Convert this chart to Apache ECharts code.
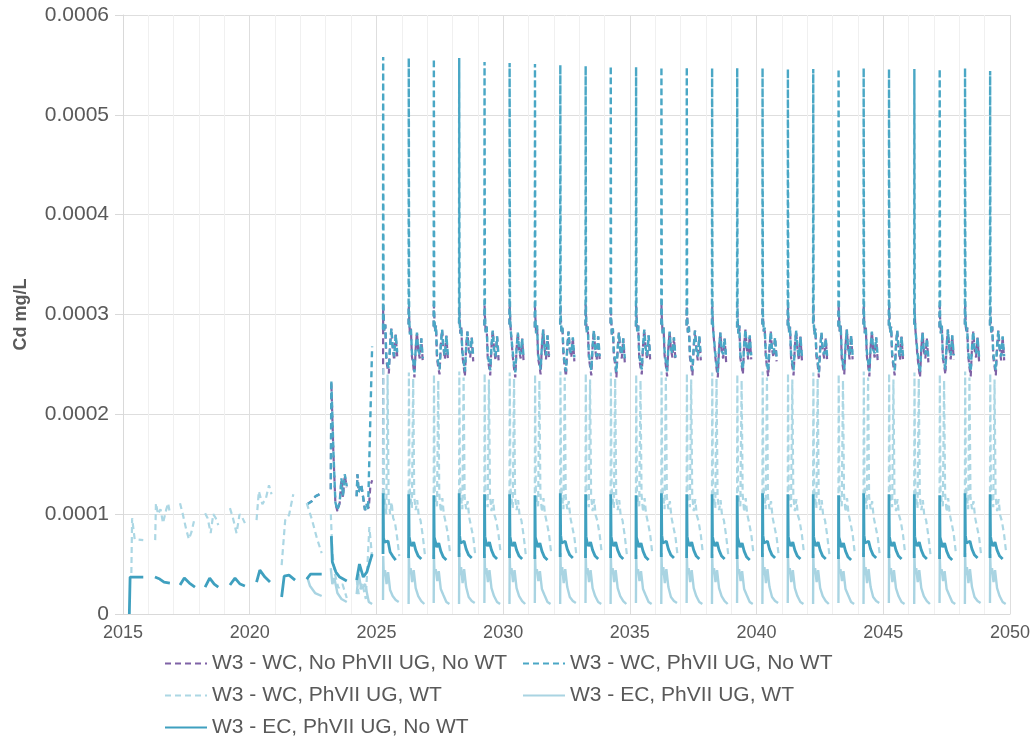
<!DOCTYPE html>
<html><head><meta charset="utf-8">
<script src="https://cdn.jsdelivr.net/npm/echarts/dist/echarts.min.js"></script>
<style>html,body{margin:0;padding:0;background:#fff}#c{width:1034px;height:755px}</style>
</head><body><div id="c"></div>
<script>
const seriesNames = ['W3 - WC, No PhVII UG, No WT','W3 - WC, PhVII UG, No WT','W3 - WC, PhVII UG, WT','W3 - EC, PhVII UG, WT','W3 - EC, PhVII UG, No WT'];
const yTicks = [0, 0.0001, 0.0002, 0.0003, 0.0004, 0.0005, 0.0006];
const xTicks = [2015, 2020, 2025, 2030, 2035, 2040, 2045, 2050];

// annual event start years (2025 onward)
const cycleStart = [2025.26,2026.27,2027.26,2028.26,2029.26,2030.25,2031.25,2032.25,2033.25,2034.24,2035.24,2036.24,2037.24,2038.24,2039.23,2040.23,2041.23,2042.23,2043.23,2044.22,2045.22,2046.22,2047.22,2048.22,2049.21];

// ---- W3 - WC, No PhVII UG, No WT (purple dashed)
const s1Early = [
 [[2022.27,110e-6],[2022.45,113e-6],[2022.60,118e-6],[2022.84,121e-6]],
 [[2023.20,125e-6],[2023.22,232e-6],[2023.30,163e-6],[2023.38,111e-6],[2023.46,103e-6],[2023.55,111e-6],[2023.62,135e-6],[2023.68,117e-6],[2023.75,139e-6],[2023.83,127e-6]],
 [[2024.22,118e-6],[2024.25,140e-6],[2024.30,122e-6],[2024.40,130e-6],[2024.55,104e-6],[2024.62,110e-6],[2024.70,106e-6],[2024.76,128e-6],[2024.83,134e-6]]
];
const s1Offsets = [0,0.006,0.02,0.05,0.09,0.13,0.18,0.23,0.28,0.33,0.38,0.44,0.5,0.56];
const s1Rows = [
 [120e-6,310e-6,302e-6,284e-6,290e-6,254e-6,246e-6,241e-6,270e-6,286e-6,268e-6,254e-6,280e-6,258e-6],
 [290e-6,309e-6,298e-6,280e-6,286e-6,258e-6,250e-6,237e-6,266e-6,282e-6,264e-6,256e-6,276e-6,252e-6],
 [288e-6,310e-6,300e-6,283e-6,289e-6,256e-6,247e-6,240e-6,269e-6,285e-6,267e-6,255e-6,279e-6,255e-6],
 [291e-6,308e-6,297e-6,281e-6,287e-6,259e-6,249e-6,238e-6,267e-6,283e-6,265e-6,257e-6,277e-6,253e-6],
 [289e-6,309e-6,299e-6,282e-6,288e-6,257e-6,248e-6,239e-6,268e-6,284e-6,266e-6,254e-6,278e-6,254e-6],
 [290e-6,310e-6,301e-6,284e-6,286e-6,258e-6,246e-6,237e-6,266e-6,282e-6,264e-6,256e-6,276e-6,252e-6],
 [287e-6,308e-6,298e-6,281e-6,289e-6,256e-6,249e-6,240e-6,269e-6,285e-6,267e-6,255e-6,279e-6,255e-6],
 [290e-6,309e-6,300e-6,283e-6,287e-6,259e-6,247e-6,238e-6,267e-6,283e-6,265e-6,257e-6,277e-6,253e-6],
 [289e-6,310e-6,299e-6,282e-6,288e-6,257e-6,248e-6,239e-6,268e-6,284e-6,266e-6,254e-6,278e-6,254e-6],
 [291e-6,308e-6,297e-6,280e-6,286e-6,258e-6,250e-6,237e-6,266e-6,282e-6,264e-6,256e-6,276e-6,252e-6],
 [288e-6,309e-6,300e-6,283e-6,289e-6,256e-6,247e-6,240e-6,269e-6,285e-6,267e-6,255e-6,279e-6,255e-6],
 [290e-6,310e-6,298e-6,281e-6,287e-6,259e-6,249e-6,238e-6,267e-6,283e-6,265e-6,257e-6,277e-6,253e-6],
 [289e-6,308e-6,299e-6,282e-6,288e-6,257e-6,248e-6,239e-6,268e-6,284e-6,266e-6,254e-6,278e-6,254e-6],
 [290e-6,309e-6,301e-6,284e-6,286e-6,258e-6,246e-6,237e-6,266e-6,282e-6,264e-6,256e-6,276e-6,252e-6],
 [287e-6,310e-6,298e-6,281e-6,289e-6,256e-6,249e-6,240e-6,269e-6,285e-6,267e-6,255e-6,279e-6,255e-6],
 [290e-6,308e-6,300e-6,283e-6,287e-6,259e-6,247e-6,238e-6,267e-6,283e-6,265e-6,257e-6,277e-6,253e-6],
 [289e-6,309e-6,299e-6,282e-6,288e-6,257e-6,248e-6,239e-6,268e-6,284e-6,266e-6,254e-6,278e-6,254e-6],
 [291e-6,310e-6,297e-6,280e-6,286e-6,258e-6,250e-6,237e-6,266e-6,282e-6,264e-6,256e-6,276e-6,252e-6],
 [288e-6,308e-6,300e-6,283e-6,289e-6,256e-6,247e-6,240e-6,269e-6,285e-6,267e-6,255e-6,279e-6,255e-6],
 [290e-6,309e-6,298e-6,281e-6,287e-6,259e-6,249e-6,238e-6,267e-6,283e-6,265e-6,257e-6,277e-6,253e-6],
 [289e-6,310e-6,299e-6,282e-6,288e-6,257e-6,248e-6,239e-6,268e-6,284e-6,266e-6,254e-6,278e-6,254e-6],
 [290e-6,308e-6,301e-6,284e-6,286e-6,258e-6,246e-6,237e-6,266e-6,282e-6,264e-6,256e-6,276e-6,252e-6],
 [287e-6,309e-6,298e-6,281e-6,289e-6,256e-6,249e-6,240e-6,269e-6,285e-6,267e-6,255e-6,279e-6,255e-6],
 [290e-6,310e-6,300e-6,283e-6,287e-6,259e-6,247e-6,238e-6,267e-6,283e-6,265e-6,257e-6,277e-6,253e-6],
 [289e-6,308e-6,299e-6,282e-6,288e-6,257e-6,248e-6,239e-6,268e-6,284e-6,266e-6,254e-6,278e-6,254e-6]
];

// ---- W3 - WC, PhVII UG, No WT (teal dashed)
const s2Early = [
 [[2022.27,110e-6],[2022.45,113e-6],[2022.60,118e-6],[2022.84,121e-6]],
 [[2023.20,125e-6],[2023.22,234e-6],[2023.30,165e-6],[2023.38,112e-6],[2023.46,104e-6],[2023.55,112e-6],[2023.62,136e-6],[2023.68,118e-6],[2023.75,140e-6],[2023.83,128e-6]],
 [[2024.22,118e-6],[2024.25,140e-6],[2024.30,122e-6],[2024.40,130e-6],[2024.55,104e-6],[2024.62,110e-6],[2024.67,104e-6],[2024.83,268e-6]]
];
const s2Offsets = [0,0.006,0.02,0.05,0.09,0.13,0.18,0.23,0.28,0.33,0.38,0.44,0.5,0.56];
const s2Rows = [
 [285e-6,558e-6,302e-6,284e-6,290e-6,258e-6,250e-6,246e-6,270e-6,286e-6,268e-6,258e-6,280e-6,262e-6],
 [290e-6,557e-6,298e-6,280e-6,286e-6,262e-6,254e-6,242e-6,266e-6,282e-6,264e-6,260e-6,276e-6,256e-6],
 [288e-6,556e-6,300e-6,283e-6,289e-6,260e-6,251e-6,245e-6,269e-6,285e-6,267e-6,259e-6,279e-6,259e-6],
 [291e-6,557e-6,297e-6,281e-6,287e-6,263e-6,253e-6,243e-6,267e-6,283e-6,265e-6,261e-6,277e-6,257e-6],
 [289e-6,553e-6,299e-6,282e-6,288e-6,261e-6,252e-6,244e-6,268e-6,284e-6,266e-6,258e-6,278e-6,258e-6],
 [290e-6,552e-6,301e-6,284e-6,286e-6,262e-6,250e-6,242e-6,266e-6,282e-6,264e-6,260e-6,276e-6,256e-6],
 [287e-6,551e-6,298e-6,281e-6,289e-6,260e-6,253e-6,245e-6,269e-6,285e-6,267e-6,259e-6,279e-6,259e-6],
 [290e-6,550e-6,300e-6,283e-6,287e-6,263e-6,251e-6,243e-6,267e-6,283e-6,265e-6,261e-6,277e-6,257e-6],
 [289e-6,549e-6,299e-6,282e-6,288e-6,261e-6,252e-6,244e-6,268e-6,284e-6,266e-6,258e-6,278e-6,258e-6],
 [291e-6,549e-6,297e-6,280e-6,286e-6,262e-6,254e-6,242e-6,266e-6,282e-6,264e-6,260e-6,276e-6,256e-6],
 [288e-6,548e-6,300e-6,283e-6,289e-6,260e-6,251e-6,245e-6,269e-6,285e-6,267e-6,259e-6,279e-6,259e-6],
 [290e-6,548e-6,298e-6,281e-6,287e-6,263e-6,253e-6,243e-6,267e-6,283e-6,265e-6,261e-6,277e-6,257e-6],
 [289e-6,548e-6,299e-6,282e-6,288e-6,261e-6,252e-6,244e-6,268e-6,284e-6,266e-6,258e-6,278e-6,258e-6],
 [290e-6,547e-6,301e-6,284e-6,286e-6,262e-6,250e-6,242e-6,266e-6,282e-6,264e-6,260e-6,276e-6,256e-6],
 [287e-6,547e-6,298e-6,281e-6,289e-6,260e-6,253e-6,245e-6,269e-6,285e-6,267e-6,259e-6,279e-6,259e-6],
 [290e-6,547e-6,300e-6,283e-6,287e-6,263e-6,251e-6,243e-6,267e-6,283e-6,265e-6,261e-6,277e-6,257e-6],
 [289e-6,546e-6,299e-6,282e-6,288e-6,261e-6,252e-6,244e-6,268e-6,284e-6,266e-6,258e-6,278e-6,258e-6],
 [291e-6,546e-6,297e-6,280e-6,286e-6,262e-6,254e-6,242e-6,266e-6,282e-6,264e-6,260e-6,276e-6,256e-6],
 [288e-6,546e-6,300e-6,283e-6,289e-6,260e-6,251e-6,245e-6,269e-6,285e-6,267e-6,259e-6,279e-6,259e-6],
 [290e-6,547e-6,298e-6,281e-6,287e-6,263e-6,253e-6,243e-6,267e-6,283e-6,265e-6,261e-6,277e-6,257e-6],
 [289e-6,546e-6,299e-6,282e-6,288e-6,261e-6,252e-6,244e-6,268e-6,284e-6,266e-6,258e-6,278e-6,258e-6],
 [290e-6,546e-6,301e-6,284e-6,286e-6,262e-6,250e-6,242e-6,266e-6,282e-6,264e-6,260e-6,276e-6,256e-6],
 [287e-6,546e-6,298e-6,281e-6,289e-6,260e-6,253e-6,245e-6,269e-6,285e-6,267e-6,259e-6,279e-6,259e-6],
 [290e-6,547e-6,300e-6,283e-6,287e-6,263e-6,251e-6,243e-6,267e-6,283e-6,265e-6,261e-6,277e-6,257e-6],
 [289e-6,544e-6,299e-6,282e-6,288e-6,261e-6,252e-6,244e-6,268e-6,284e-6,266e-6,258e-6,278e-6,258e-6]
];

// ---- W3 - WC, PhVII UG, WT (light dashed)
const s3Early = [
 [[2015.33,41e-6],[2015.36,96e-6],[2015.46,75e-6],[2015.80,74e-6]],
 [[2016.27,74e-6],[2016.30,111e-6],[2016.38,100e-6],[2016.48,105e-6],[2016.58,91e-6],[2016.70,104e-6],[2016.78,111e-6],[2016.85,101e-6]],
 [[2017.25,111e-6],[2017.36,100e-6],[2017.50,84e-6],[2017.60,75e-6],[2017.70,82e-6],[2017.80,93e-6]],
 [[2018.24,101e-6],[2018.34,96e-6],[2018.46,81e-6],[2018.56,100e-6],[2018.66,96e-6],[2018.76,89e-6]],
 [[2019.22,106e-6],[2019.34,96e-6],[2019.48,81e-6],[2019.60,100e-6],[2019.70,97e-6],[2019.81,91e-6]],
 [[2020.27,94e-6],[2020.36,123e-6],[2020.50,110e-6],[2020.64,116e-6],[2020.76,129e-6],[2020.86,120e-6]],
 [[2021.26,49e-6],[2021.40,94e-6],[2021.55,99e-6],[2021.72,120e-6]],
 [[2022.25,111e-6],[2022.45,95e-6],[2022.65,76e-6],[2022.84,61e-6]],
 [[2023.20,100e-6],[2023.26,62e-6],[2023.36,40e-6],[2023.50,26e-6],[2023.66,30e-6],[2023.83,16e-6]],
 [[2024.22,35e-6],[2024.30,20e-6],[2024.44,31e-6],[2024.58,15e-6],[2024.72,87e-6],[2024.83,57e-6]]
];
const s3Offsets = [0,0.01,0.04,0.08,0.13,0.18,0.2,0.22,0.28,0.34,0.4,0.47,0.56,0.64];
const s3Rows = [
 [90e-6,248e-6,122e-6,112e-6,100e-6,240e-6,178e-6,116e-6,100e-6,112e-6,96e-6,92e-6,76e-6,58e-6],
 [118e-6,242e-6,126e-6,116e-6,106e-6,236e-6,182e-6,118e-6,104e-6,114e-6,98e-6,94e-6,78e-6,60e-6],
 [121e-6,240e-6,124e-6,114e-6,108e-6,234e-6,178e-6,120e-6,102e-6,116e-6,100e-6,92e-6,80e-6,62e-6],
 [119e-6,243e-6,127e-6,117e-6,105e-6,237e-6,180e-6,117e-6,105e-6,113e-6,97e-6,95e-6,77e-6,59e-6],
 [122e-6,241e-6,125e-6,115e-6,107e-6,235e-6,179e-6,119e-6,103e-6,115e-6,99e-6,93e-6,79e-6,61e-6],
 [118e-6,242e-6,126e-6,116e-6,106e-6,236e-6,182e-6,118e-6,104e-6,114e-6,98e-6,94e-6,78e-6,60e-6],
 [121e-6,240e-6,124e-6,114e-6,108e-6,234e-6,178e-6,120e-6,102e-6,116e-6,100e-6,92e-6,80e-6,62e-6],
 [119e-6,243e-6,127e-6,117e-6,105e-6,237e-6,180e-6,117e-6,105e-6,113e-6,97e-6,95e-6,77e-6,59e-6],
 [122e-6,241e-6,125e-6,115e-6,107e-6,235e-6,179e-6,119e-6,103e-6,115e-6,99e-6,93e-6,79e-6,61e-6],
 [118e-6,242e-6,126e-6,116e-6,106e-6,236e-6,182e-6,118e-6,104e-6,114e-6,98e-6,94e-6,78e-6,60e-6],
 [121e-6,240e-6,124e-6,114e-6,108e-6,234e-6,178e-6,120e-6,102e-6,116e-6,100e-6,92e-6,80e-6,62e-6],
 [119e-6,243e-6,127e-6,117e-6,105e-6,237e-6,180e-6,117e-6,105e-6,113e-6,97e-6,95e-6,77e-6,59e-6],
 [122e-6,241e-6,125e-6,115e-6,107e-6,235e-6,179e-6,119e-6,103e-6,115e-6,99e-6,93e-6,79e-6,61e-6],
 [118e-6,242e-6,126e-6,116e-6,106e-6,236e-6,182e-6,118e-6,104e-6,114e-6,98e-6,94e-6,78e-6,60e-6],
 [121e-6,240e-6,124e-6,114e-6,108e-6,234e-6,178e-6,120e-6,102e-6,116e-6,100e-6,92e-6,80e-6,62e-6],
 [119e-6,243e-6,127e-6,117e-6,105e-6,237e-6,180e-6,117e-6,105e-6,113e-6,97e-6,95e-6,77e-6,59e-6],
 [122e-6,241e-6,125e-6,115e-6,107e-6,235e-6,179e-6,119e-6,103e-6,115e-6,99e-6,93e-6,79e-6,61e-6],
 [118e-6,242e-6,126e-6,116e-6,106e-6,236e-6,182e-6,118e-6,104e-6,114e-6,98e-6,94e-6,78e-6,60e-6],
 [121e-6,240e-6,124e-6,114e-6,108e-6,234e-6,178e-6,120e-6,102e-6,116e-6,100e-6,92e-6,80e-6,62e-6],
 [119e-6,243e-6,127e-6,117e-6,105e-6,237e-6,180e-6,117e-6,105e-6,113e-6,97e-6,95e-6,77e-6,59e-6],
 [122e-6,241e-6,125e-6,115e-6,107e-6,235e-6,179e-6,119e-6,103e-6,115e-6,99e-6,93e-6,79e-6,61e-6],
 [118e-6,242e-6,126e-6,116e-6,106e-6,236e-6,182e-6,118e-6,104e-6,114e-6,98e-6,94e-6,78e-6,60e-6],
 [121e-6,240e-6,124e-6,114e-6,108e-6,234e-6,178e-6,120e-6,102e-6,116e-6,100e-6,92e-6,80e-6,62e-6],
 [119e-6,243e-6,127e-6,117e-6,105e-6,237e-6,180e-6,117e-6,105e-6,113e-6,97e-6,95e-6,77e-6,59e-6],
 [122e-6,241e-6,125e-6,115e-6,107e-6,235e-6,179e-6,119e-6,103e-6,115e-6,99e-6,93e-6,79e-6,61e-6]
];

// ---- W3 - EC, PhVII UG, WT (light solid)
const s4Early = [
 [[2022.27,37e-6],[2022.38,28e-6],[2022.58,21e-6],[2022.84,18e-6]],
 [[2023.20,46e-6],[2023.26,30e-6],[2023.34,36e-6],[2023.46,21e-6],[2023.62,15e-6],[2023.83,12e-6]],
 [[2024.22,20e-6],[2024.30,40e-6],[2024.40,25e-6],[2024.55,30e-6],[2024.70,12e-6],[2024.83,10e-6]]
];
const s4Offsets = [0,0.008,0.03,0.08,0.14,0.2,0.28,0.38,0.5,0.62];
const s4Rows = [
 [14e-6,58e-6,38e-6,44e-6,30e-6,42e-6,24e-6,18e-6,14e-6,12e-6],
 [10e-6,60e-6,40e-6,46e-6,32e-6,44e-6,26e-6,18e-6,13e-6,10e-6],
 [11e-6,59e-6,41e-6,45e-6,33e-6,43e-6,25e-6,19e-6,12e-6,10e-6],
 [10e-6,61e-6,39e-6,47e-6,31e-6,45e-6,27e-6,17e-6,13e-6,11e-6],
 [11e-6,60e-6,40e-6,46e-6,32e-6,44e-6,26e-6,18e-6,12e-6,10e-6],
 [10e-6,60e-6,40e-6,46e-6,32e-6,44e-6,26e-6,18e-6,13e-6,10e-6],
 [11e-6,59e-6,41e-6,45e-6,33e-6,43e-6,25e-6,19e-6,12e-6,10e-6],
 [10e-6,61e-6,39e-6,47e-6,31e-6,45e-6,27e-6,17e-6,13e-6,11e-6],
 [11e-6,60e-6,40e-6,46e-6,32e-6,44e-6,26e-6,18e-6,12e-6,10e-6],
 [10e-6,60e-6,40e-6,46e-6,32e-6,44e-6,26e-6,18e-6,13e-6,10e-6],
 [11e-6,59e-6,41e-6,45e-6,33e-6,43e-6,25e-6,19e-6,12e-6,10e-6],
 [10e-6,61e-6,39e-6,47e-6,31e-6,45e-6,27e-6,17e-6,13e-6,11e-6],
 [11e-6,60e-6,40e-6,46e-6,32e-6,44e-6,26e-6,18e-6,12e-6,10e-6],
 [10e-6,60e-6,40e-6,46e-6,32e-6,44e-6,26e-6,18e-6,13e-6,10e-6],
 [11e-6,59e-6,41e-6,45e-6,33e-6,43e-6,25e-6,19e-6,12e-6,10e-6],
 [10e-6,61e-6,39e-6,47e-6,31e-6,45e-6,27e-6,17e-6,13e-6,11e-6],
 [11e-6,60e-6,40e-6,46e-6,32e-6,44e-6,26e-6,18e-6,12e-6,10e-6],
 [10e-6,60e-6,40e-6,46e-6,32e-6,44e-6,26e-6,18e-6,13e-6,10e-6],
 [11e-6,59e-6,41e-6,45e-6,33e-6,43e-6,25e-6,19e-6,12e-6,10e-6],
 [10e-6,61e-6,39e-6,47e-6,31e-6,45e-6,27e-6,17e-6,13e-6,11e-6],
 [11e-6,60e-6,40e-6,46e-6,32e-6,44e-6,26e-6,18e-6,12e-6,10e-6],
 [10e-6,60e-6,40e-6,46e-6,32e-6,44e-6,26e-6,18e-6,13e-6,10e-6],
 [11e-6,59e-6,41e-6,45e-6,33e-6,43e-6,25e-6,19e-6,12e-6,10e-6],
 [10e-6,61e-6,39e-6,47e-6,31e-6,45e-6,27e-6,17e-6,13e-6,11e-6],
 [11e-6,60e-6,40e-6,46e-6,32e-6,44e-6,26e-6,18e-6,12e-6,10e-6]
];

// ---- W3 - EC, PhVII UG, No WT (teal solid)
const s5Early = [
 [[2015.25,0],[2015.28,37e-6],[2015.80,37e-6]],
 [[2016.26,37e-6],[2016.45,35e-6],[2016.62,32e-6],[2016.85,31e-6]],
 [[2017.25,29e-6],[2017.42,36e-6],[2017.62,31e-6],[2017.84,27e-6]],
 [[2018.24,27e-6],[2018.42,36e-6],[2018.60,30e-6],[2018.76,27e-6]],
 [[2019.22,29e-6],[2019.42,36e-6],[2019.62,30e-6],[2019.81,28e-6]],
 [[2020.27,32e-6],[2020.40,44e-6],[2020.60,37e-6],[2020.80,32e-6]],
 [[2021.26,17e-6],[2021.36,38e-6],[2021.55,39e-6],[2021.79,34e-6]],
 [[2022.25,35e-6],[2022.40,40e-6],[2022.84,40e-6]],
 [[2023.22,78e-6],[2023.26,52e-6],[2023.40,42e-6],[2023.55,37e-6],[2023.83,33e-6]],
 [[2024.22,34e-6],[2024.33,50e-6],[2024.48,37e-6],[2024.62,42e-6],[2024.83,60e-6]]
];
const s5Offsets = [0,0.006,0.02,0.06,0.12,0.2,0.28,0.38,0.5];
const s5Rows = [
 [60e-6,121e-6,76e-6,72e-6,70e-6,73e-6,62e-6,58e-6,54e-6],
 [56e-6,120e-6,78e-6,72e-6,68e-6,72e-6,64e-6,58e-6,55e-6],
 [55e-6,119e-6,77e-6,73e-6,67e-6,71e-6,63e-6,57e-6,54e-6],
 [57e-6,121e-6,79e-6,71e-6,69e-6,73e-6,65e-6,59e-6,56e-6],
 [56e-6,120e-6,78e-6,72e-6,68e-6,72e-6,64e-6,58e-6,55e-6],
 [56e-6,120e-6,78e-6,72e-6,68e-6,72e-6,64e-6,58e-6,55e-6],
 [55e-6,119e-6,77e-6,73e-6,67e-6,71e-6,63e-6,57e-6,54e-6],
 [57e-6,121e-6,79e-6,71e-6,69e-6,73e-6,65e-6,59e-6,56e-6],
 [56e-6,120e-6,78e-6,72e-6,68e-6,72e-6,64e-6,58e-6,55e-6],
 [56e-6,120e-6,78e-6,72e-6,68e-6,72e-6,64e-6,58e-6,55e-6],
 [55e-6,119e-6,77e-6,73e-6,67e-6,71e-6,63e-6,57e-6,54e-6],
 [57e-6,121e-6,79e-6,71e-6,69e-6,73e-6,65e-6,59e-6,56e-6],
 [56e-6,120e-6,78e-6,72e-6,68e-6,72e-6,64e-6,58e-6,55e-6],
 [56e-6,120e-6,78e-6,72e-6,68e-6,72e-6,64e-6,58e-6,55e-6],
 [55e-6,119e-6,77e-6,73e-6,67e-6,71e-6,63e-6,57e-6,54e-6],
 [57e-6,121e-6,79e-6,71e-6,69e-6,73e-6,65e-6,59e-6,56e-6],
 [56e-6,120e-6,78e-6,72e-6,68e-6,72e-6,64e-6,58e-6,55e-6],
 [56e-6,120e-6,78e-6,72e-6,68e-6,72e-6,64e-6,58e-6,55e-6],
 [55e-6,119e-6,77e-6,73e-6,67e-6,71e-6,63e-6,57e-6,54e-6],
 [57e-6,121e-6,79e-6,71e-6,69e-6,73e-6,65e-6,59e-6,56e-6],
 [56e-6,120e-6,78e-6,72e-6,68e-6,72e-6,64e-6,58e-6,55e-6],
 [56e-6,120e-6,78e-6,72e-6,68e-6,72e-6,64e-6,58e-6,55e-6],
 [55e-6,119e-6,77e-6,73e-6,67e-6,71e-6,63e-6,57e-6,54e-6],
 [57e-6,121e-6,79e-6,71e-6,69e-6,73e-6,65e-6,59e-6,56e-6],
 [56e-6,120e-6,78e-6,72e-6,68e-6,72e-6,64e-6,58e-6,55e-6]
];

function build(early, offsets, rows) {
  const segs = early.slice();
  rows.forEach((row, k) => segs.push(row.map((v, i) => [cycleStart[k] + offsets[i], v])));
  const out = [];
  segs.forEach(seg => {
    seg.forEach(p => out.push(p));
    out.push([seg[seg.length - 1][0] + 0.01, '-']);
  });
  return out;
}

const FONT = 'Liberation Sans, Arial, sans-serif';
const TXT = '#595959';
const colors = ['#7f62a6', '#4aa7c5', '#acd7e4', '#a9d4e2', '#3fa0bf'];
const dash = [6, 4];

const chart = echarts.init(document.getElementById('c'), null, {renderer: 'canvas'});
const mk = (i, data, type, width) => ({
  name: seriesNames[i], type: 'line', data, symbol: 'none', showSymbol: false,
  animation: false, silent: true, z: 2 + i,
  lineStyle: {color: colors[i], width, type},
  itemStyle: {color: colors[i]},
  emphasis: {disabled: true}
});
const legendBase = {
  orient: 'horizontal', itemWidth: 42, itemHeight: 14, itemGap: 0, padding: 0,
  selectedMode: false,
  itemStyle: {opacity: 0, borderWidth: 0},
  textStyle: {fontFamily: FONT, fontSize: 21, color: TXT}
};
chart.setOption({
  animation: false,
  backgroundColor: '#ffffff',
  grid: {left: 123, right: 24, top: 15, bottom: 141, containLabel: false},
  xAxis: {
    type: 'value', min: xTicks[0], max: xTicks[xTicks.length - 1], interval: 5,
    axisLine: {show: true, lineStyle: {color: '#d9d9d9', width: 1}},
    axisTick: {show: false},
    axisLabel: {fontFamily: FONT, fontSize: 18, color: TXT, margin: 10, formatter: v => String(v)},
    splitLine: {show: true, lineStyle: {color: '#dedede', width: 1}},
    minorTick: {show: false, splitNumber: 5},
    minorSplitLine: {show: true, lineStyle: {color: '#f0f0f0', width: 1}}
  },
  yAxis: {
    type: 'value', min: yTicks[0], max: yTicks[yTicks.length - 1], interval: 0.0001,
    name: 'Cd mg/L', nameLocation: 'middle', nameRotate: 90, nameGap: 93,
    nameTextStyle: {fontFamily: FONT, fontSize: 18, fontWeight: 'bold', color: TXT},
    axisLine: {show: true, lineStyle: {color: '#d9d9d9'}},
    axisTick: {show: true, length: 8, lineStyle: {color: '#d9d9d9'}},
    axisLabel: {fontFamily: FONT, fontSize: 21, color: TXT, margin: 14, formatter: v => v === 0 ? '0' : v.toFixed(4)},
    splitLine: {show: true, lineStyle: {color: '#dedede', width: 1}}
  },
  legend: [
    Object.assign({}, legendBase, {data: [seriesNames[0]], left: 164, top: 653}),
    Object.assign({}, legendBase, {data: [seriesNames[1]], left: 522, top: 653}),
    Object.assign({}, legendBase, {data: [seriesNames[2]], left: 164, top: 685}),
    Object.assign({}, legendBase, {data: [seriesNames[3]], left: 522, top: 685}),
    Object.assign({}, legendBase, {data: [seriesNames[4]], left: 164, top: 717})
  ],
  series: [
    mk(0, build(s1Early, s1Offsets, s1Rows), dash, 2.2),
    mk(1, build(s2Early, s2Offsets, s2Rows), dash, 2.4),
    mk(2, build(s3Early, s3Offsets, s3Rows), dash, 2.2),
    mk(3, build(s4Early, s4Offsets, s4Rows), 'solid', 2.4),
    mk(4, build(s5Early, s5Offsets, s5Rows), 'solid', 2.8)
  ]
});
</script>
</body></html>
